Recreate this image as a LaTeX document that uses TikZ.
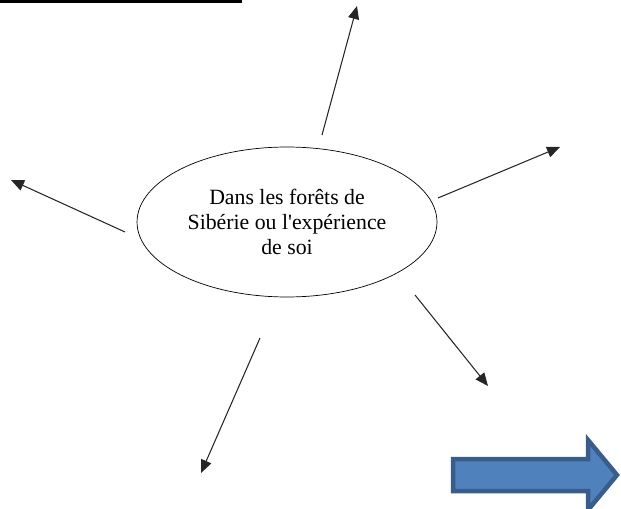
\documentclass[tikz,border=0pt]{standalone}
\usepackage{fontspec}
\setmainfont{Liberation Serif}
\newfontfamily\labelfont{Liberation Serif}
\usetikzlibrary{shapes.geometric,arrows.meta}
\definecolor{arrowfill}{HTML}{4F81BD}
\definecolor{arrowedge}{HTML}{385D8A}
\begin{document}
\begin{tikzpicture}[x=0.02cm, y=-0.02cm]
    \useasboundingbox (0,0) rectangle (621,509);
    \fill[black] (0,0) rectangle (242,3.5);

    \node[draw, ellipse, minimum width=6cm, minimum height=3cm, inner sep=0pt,
          align=center, font=\labelfont\fontsize{12.4}{14.4}\selectfont] (S) at (287,222)
          {Dans les forêts de\\Sibérie ou l'expérience\\de soi};

    \coordinate (N0) at (322,135);  \coordinate (N1) at (357,6);
    \coordinate (E0) at (438,198);  \coordinate (E1) at (560,147);
    \coordinate (W0) at (125,232);  \coordinate (W1) at (11,180);
    \coordinate (SE0) at (415,295); \coordinate (SE1) at (488,386);
    \coordinate (SW0) at (260,338); \coordinate (SW1) at (201,473);

    \draw[-{Triangle[length=2.6mm,width=2.2mm]}, line width=0.6pt, black!85] (N0) -- (N1);
    \draw[-{Triangle[length=2.6mm,width=2.2mm]}, line width=0.6pt, black!85] (E0) -- (E1);
    \draw[-{Triangle[length=2.6mm,width=2.2mm]}, line width=0.6pt, black!85] (W0) -- (W1);
    \draw[-{Triangle[length=2.6mm,width=2.2mm]}, line width=0.6pt, black!85] (SE0) -- (SE1);
    \draw[-{Triangle[length=2.6mm,width=2.2mm]}, line width=0.6pt, black!85] (SW0) -- (SW1);

    % block arrow
    \draw[fill=arrowfill, draw=arrowedge, line width=0.09cm, line join=miter]
        (453,459) -- (588,459) -- (588,440) -- (617,475) -- (588,510)
        -- (588,491) -- (453,491) -- cycle;
\end{tikzpicture}
\end{document}
